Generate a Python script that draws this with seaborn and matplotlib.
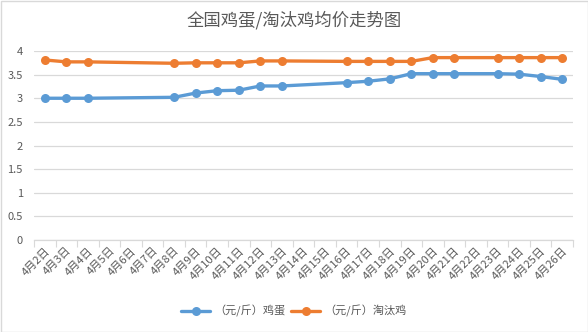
import matplotlib
matplotlib.use("Agg")
import matplotlib.pyplot as plt
import seaborn as sns
import pandas as pd
from matplotlib.ticker import FixedLocator

categories = [f"4月{d}日" for d in range(2, 27)]
point_dates = ["4月2日", "4月3日", "4月4日", "4月8日", "4月9日", "4月10日", "4月11日",
               "4月12日", "4月13日", "4月16日", "4月17日", "4月18日", "4月19日",
               "4月20日", "4月21日", "4月23日", "4月24日", "4月25日", "4月26日"]
egg = [3.00, 3.00, 3.00, 3.02, 3.11, 3.16, 3.17, 3.26, 3.26, 3.33, 3.36, 3.41, 3.52,
       3.52, 3.52, 3.52, 3.51, 3.46, 3.40]
hen = [3.81, 3.77, 3.77, 3.74, 3.75, 3.75, 3.75, 3.79, 3.79, 3.78, 3.78, 3.78, 3.78,
       3.86, 3.86, 3.86, 3.86, 3.86, 3.86]
series_names = ["（元/斤）鸡蛋", "（元/斤）淘汰鸡"]
title = "全国鸡蛋/淘汰鸡均价走势图"
y_ticks = [0, 0.5, 1, 1.5, 2, 2.5, 3, 3.5, 4]
y_labels = ["0", "0.5", "1", "1.5", "2", "2.5", "3", "3.5", "4"]

sns.set_theme(style="white")
plt.rcParams['font.family'] = ['Noto Sans CJK SC', 'DejaVu Sans']

pos = {c: i for i, c in enumerate(categories)}
df = pd.DataFrame({
    "x": [pos[d] for d in point_dates] * 2,
    "value": egg + hen,
    "series": [series_names[0]] * len(egg) + [series_names[1]] * len(hen),
})

fig = plt.figure(figsize=(5.88, 3.32), dpi=100)
fig.patch.set_facecolor("white")
ax = fig.add_axes([34 / 588, 92 / 332, 539 / 588, 189 / 332])

palette = {series_names[0]: "#5B9BD5", series_names[1]: "#ED7D31"}
sns.lineplot(data=df, x="x", y="value", hue="series", palette=palette, marker="o",
             markersize=6.5, markeredgewidth=0, linewidth=2.4, ax=ax, legend=True)

ax.set_xlim(-0.5, len(categories) - 0.5)
ax.set_ylim(0, 4)
ax.set_yticks(y_ticks)
ax.set_yticklabels(y_labels)
ax.set_xticks(range(len(categories)))
ax.set_xticklabels(categories, rotation=45, ha="right", rotation_mode="anchor")
ax.xaxis.set_minor_locator(FixedLocator([i - 0.5 for i in range(len(categories) + 1)]))
ax.tick_params(axis="x", which="major", length=0, pad=4, labelsize=8, labelcolor="#595959")
ax.tick_params(axis="x", which="minor", length=5, width=0.8, color="#D9D9D9", bottom=True)
ax.tick_params(axis="y", length=0, pad=8, labelsize=8, labelcolor="#595959")
ax.grid(axis="y", color="#D9D9D9", linewidth=0.9)
ax.set_axisbelow(True)
for s in ["top", "right", "left"]:
    ax.spines[s].set_visible(False)
ax.spines["bottom"].set_color("#D9D9D9")
ax.spines["bottom"].set_linewidth(0.9)
ax.set_xlabel("")
ax.set_ylabel("")

fig.text(0.5, 1 - 20 / 332, title, ha="center", va="center", fontsize=12.5, color="#595959")

handles, labels = ax.get_legend_handles_labels()
ax.legend(handles, labels, loc="center", bbox_to_anchor=(0.5, 1 - 311 / 332),
          bbox_transform=fig.transFigure, ncol=2, frameon=False, fontsize=8,
          labelcolor="#595959", handlelength=2.6, columnspacing=0.5, handletextpad=0.4)

border = plt.Rectangle((0.5 / 588, 0.5 / 332), 1 - 1 / 588, 1 - 1 / 332, transform=fig.transFigure,
                       fill=False, edgecolor="#D9D9D9", linewidth=1)
fig.patches.append(border)

fig.savefig("out.png", dpi=100, facecolor="white")
